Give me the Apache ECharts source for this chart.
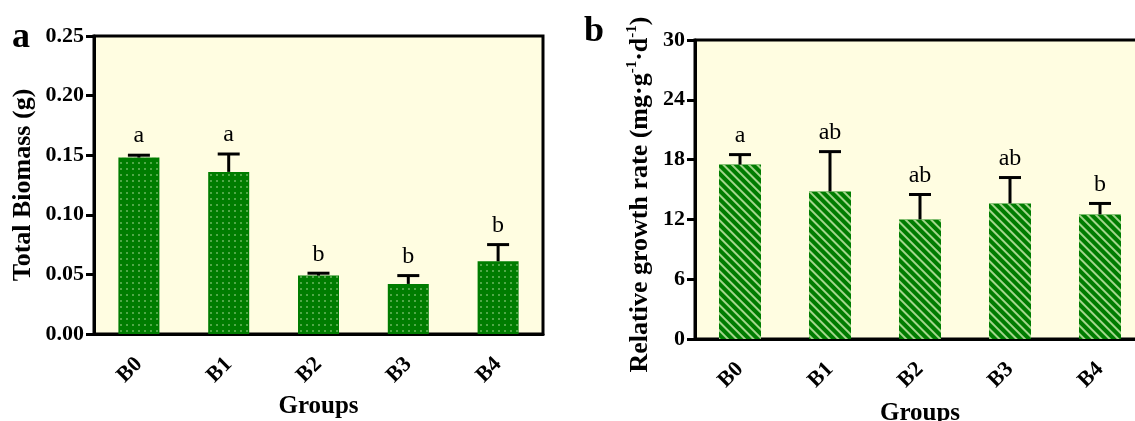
<!DOCTYPE html>
<html>
<head>
<meta charset="utf-8">
<script src="https://cdn.jsdelivr.net/npm/echarts@6/dist/echarts.min.js"></script>
<style>
    html, body { margin: 0; padding: 0; background: #fff; overflow: hidden; }
    #chart { width: 1135px; height: 421px; }
</style>
</head>
<body>
<div id="chart"></div>
<script>
var categories = ['B0', 'B1', 'B2', 'B3', 'B4'];
// panel a: total biomass (g), mean and top of the error bar
var biomass = [0.148, 0.136, 0.049, 0.042, 0.061];
var biomassUpper = [0.150, 0.151, 0.051, 0.049, 0.075];
var biomassLetters = ['a', 'a', 'b', 'b', 'b'];
// panel b: relative growth rate
var growth = [17.5, 14.8, 12.0, 13.6, 12.5];
var growthUpper = [18.5, 18.8, 14.5, 16.2, 13.6];
var growthLetters = ['a', 'ab', 'ab', 'ab', 'b'];

var serif = 'Liberation Serif';
var chart = echarts.init(document.getElementById('chart'));

function errorData(mean, upper) {
    return mean.map(function (v, i) { return [i, v, upper[i]]; });
}

function errorRender(letters) {
    return function (params, api) {
        var base = api.coord([api.value(0), api.value(1)]);
        var top = api.coord([api.value(0), api.value(2)]);
        return {
            type: 'group',
            children: [
                {type: 'line', shape: {x1: base[0], y1: base[1], x2: top[0], y2: top[1]},
                    style: {stroke: '#000', lineWidth: 3}},
                {type: 'line', shape: {x1: top[0] - 11, y1: top[1], x2: top[0] + 11, y2: top[1]},
                    style: {stroke: '#000', lineWidth: 3}},
                {type: 'text', style: {
                    x: top[0], y: top[1] - 19, text: letters[params.dataIndex],
                    align: 'center', verticalAlign: 'middle',
                    font: '24px ' + serif, fill: '#000'
                }}
            ]
        };
    };
}

function xAxisFor(gridIndex, gap) {
    return {
        type: 'category', gridIndex: gridIndex, data: categories,
        name: 'Groups', nameLocation: 'middle', nameGap: gap,
        nameTextStyle: {fontFamily: serif, fontWeight: 'bold', fontSize: 25, color: '#000'},
        axisLine: {lineStyle: {color: '#000', width: 3}},
        axisTick: {alignWithLabel: true, length: 10, lineStyle: {color: '#000', width: 3}},
        axisLabel: {rotate: 45, margin: 27, fontFamily: serif, fontWeight: 'bold', fontSize: 22, color: '#000'}
    };
}

chart.setOption({
    animation: false,
    graphic: [
        {type: 'text', left: 12, top: 20, style: {text: 'a', font: 'bold 36px ' + serif, fill: '#000'}},
        {type: 'text', left: 584, top: 14, style: {text: 'b', font: 'bold 36px ' + serif, fill: '#000'}}
    ],
    grid: [
        {left: 94, top: 36, width: 449, height: 298, show: true, outerBoundsMode: 'none',
            backgroundColor: '#fffde1', borderColor: '#000', borderWidth: 3},
        {left: 695, top: 40, width: 450, height: 299, show: true, outerBoundsMode: 'none',
            backgroundColor: '#fffde1', borderColor: '#000', borderWidth: 3}
    ],
    xAxis: [xAxisFor(0, 58), xAxisFor(1, 62)],
    yAxis: [{
        type: 'value', gridIndex: 0, min: 0, max: 0.25, interval: 0.05,
        name: 'Total Biomass (g)', nameLocation: 'middle', nameGap: 58,
        nameTextStyle: {fontFamily: serif, fontWeight: 'bold', fontSize: 26, color: '#000'},
        splitLine: {show: false},
        axisLine: {show: true, lineStyle: {color: '#000', width: 3}},
        axisTick: {show: true, length: 8, lineStyle: {color: '#000', width: 3}},
        axisLabel: {margin: 10, fontFamily: serif, fontWeight: 'bold', fontSize: 22, color: '#000',
            formatter: function (v) { return v.toFixed(2); }}
    }, {
        type: 'value', gridIndex: 1, min: 0, max: 30, interval: 6,
        name: '{t|Relative growth rate (mg·g}{s|-1}{t|·d}{s|-1}{t|)}',
        nameLocation: 'middle', nameGap: 40,
        nameTextStyle: {
            padding: [0, 10, 0, 0],
            rich: {
                t: {fontFamily: serif, fontWeight: 'bold', fontSize: 26, color: '#000', lineHeight: 30},
                s: {fontFamily: serif, fontWeight: 'bold', fontSize: 15, color: '#000', verticalAlign: 'top', lineHeight: 16}
            }
        },
        splitLine: {show: false},
        axisLine: {show: true, lineStyle: {color: '#000', width: 3}},
        axisTick: {show: true, length: 8, lineStyle: {color: '#000', width: 3}},
        axisLabel: {margin: 10, fontFamily: serif, fontWeight: 'bold', fontSize: 22, color: '#000'}
    }],
    series: [{
        type: 'bar', xAxisIndex: 0, yAxisIndex: 0, data: biomass, barWidth: 41,
        itemStyle: {
            color: '#007c00',
            decal: {symbol: 'circle', symbolSize: 0.8, dashArrayX: [2, 4], dashArrayY: [2, 4], color: '#b8e2a4'}
        }
    }, {
        type: 'custom', xAxisIndex: 0, yAxisIndex: 0, z: 5,
        data: errorData(biomass, biomassUpper),
        encode: {x: 0, y: [1, 2]},
        renderItem: errorRender(biomassLetters)
    }, {
        type: 'bar', xAxisIndex: 1, yAxisIndex: 1, data: growth, barWidth: 42,
        itemStyle: {
            color: '#007c00',
            decal: {symbol: 'rect', symbolSize: 1, dashArrayX: [1, 0], dashArrayY: [1.4, 3.2], rotation: Math.PI / 4, color: '#a3d68c'}
        }
    }, {
        type: 'custom', xAxisIndex: 1, yAxisIndex: 1, z: 5,
        data: errorData(growth, growthUpper),
        encode: {x: 0, y: [1, 2]},
        renderItem: errorRender(growthLetters)
    }]
});
</script>
</body>
</html>
